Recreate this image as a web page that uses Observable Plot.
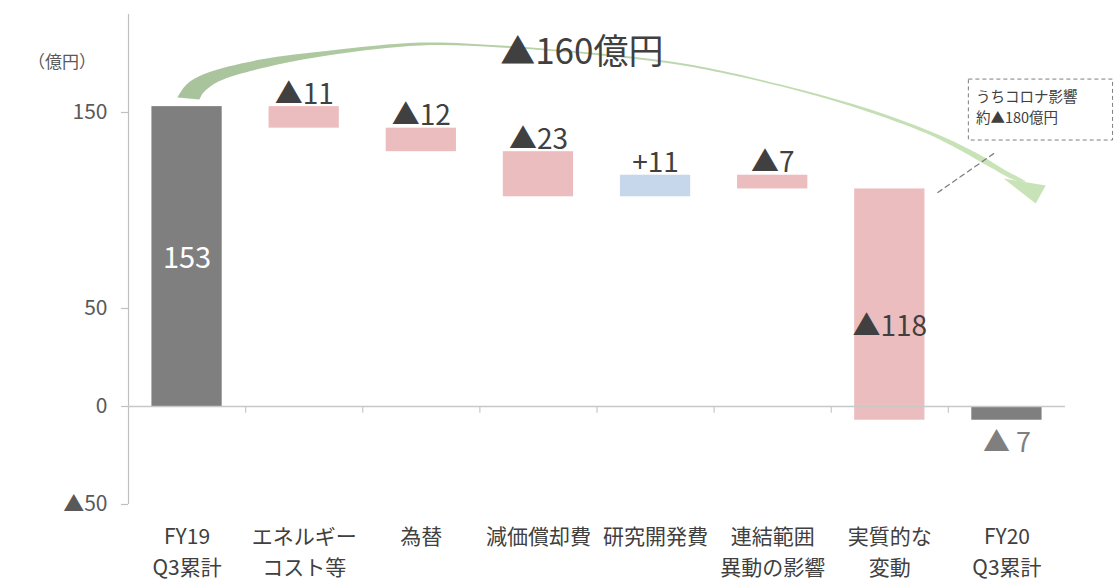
<!DOCTYPE html>
<html><head><meta charset="utf-8">
<script src="https://cdn.jsdelivr.net/npm/d3@7"></script>
<script src="https://cdn.jsdelivr.net/npm/@observablehq/plot@0.6"></script>
<style>body{margin:0;background:#fff;} #chart svg{overflow:visible;}</style>
</head><body><div id="chart"></div>
<script>
// ---- data ----
const categories = ["FY19\nQ3累計", "エネルギー\nコスト等", "為替", "減価償却費", "研究開発費", "連結範囲\n異動の影響", "実質的な\n変動", "FY20\nQ3累計"];
const values = [153, -11, -12, -23, 11, -7, -118, -7];
const kinds = ["total", "delta", "delta", "delta", "delta", "delta", "delta", "total"];
const valueLabels = ["153", "▲11", "▲12", "▲23", "+11", "▲7", "▲118", "▲ 7"];
const yTicks = [150, 50, 0, -50];
const yTickLabels = ["150", "50", "0", "▲50"];
const unitLabel = "（億円）";
const totalChangeLabel = "▲160億円";
const coronaNote = "うちコロナ影響\n約▲180億円";
// annotation arrow outline (data units: x = category index, y = 億円)
const arrowShaftX = [-0.082, -0.005, 0.157, 0.627, 1.225, 1.993, 2.676, 3.530, 4.128, 4.555, 5.238, 5.836, 6.348, 6.733, 6.989, 7.160,
                     7.074, 6.861, 6.605, 6.306, 5.819, 5.238, 4.555, 4.128, 3.530, 2.676, 1.993, 1.225, 0.627, 0.268, 0.140, 0.106];
const arrowShaftY = [157.7, 164.3, 169.9, 177.0, 181.6, 185.7, 184.2, 180.1, 176.0, 171.4, 161.7, 151.5, 140.3, 129.6, 120.4, 114.8,
                     115.3, 121.9, 130.6, 139.5, 150.3, 160.7, 170.4, 175.0, 179.1, 183.2, 184.2, 179.3, 172.4, 165.8, 160.2, 156.6];
const arrowHeadX = [6.972, 7.331, 7.246];
const arrowHeadY = [116.3, 112.8, 103.6];
const noteBoxX = [6.675, 7.906];
const noteBoxY = [135.7, 166.8];
const leaderX = [6.41, 6.889];
const leaderY = [109.2, 129.1];
const totalChangePos = {x: 3.37, y: 180.6};
const notePos = {x: 6.735, y: 153.6};
const unitPos = {x: -1.068, y: 175.5};

// ---- waterfall table ----
let run = 0;
const bars = categories.map((c, i) => {
  const v = values[i];
  let y1, y2;
  if (kinds[i] === "total") { y1 = 0; y2 = v; run = v; }
  else { y1 = run; y2 = run + v; run = y2; }
  return {i, cat: c, v, kind: kinds[i], y1, y2, label: valueLabels[i]};
});
const colorOf = d => d.kind === "total" ? "#7f7f7f" : (d.v < 0 ? "#ecbdbe" : "#c6d6eb");

const insideTotals = bars.filter(d => d.kind === "total" && Math.abs(d.v) >= 50);
const insideDeltas = bars.filter(d => d.kind === "delta" && Math.abs(d.v) >= 50);
const aboveLabels = bars.filter(d => d.kind === "delta" && Math.abs(d.v) < 50);
const belowLabels = bars.filter(d => d.kind === "total" && Math.abs(d.v) < 50);

const shaft = arrowShaftX.map((x, k) => ({x, y: arrowShaftY[k]}));
const head = arrowHeadX.map((x, k) => ({x, y: arrowHeadY[k]}));
const leader = leaderX.map((x, k) => ({x, y: leaderY[k]}));
const boundaries = d3.range(0.5, categories.length - 1, 1);

const font = "'Noto Sans CJK JP', 'Noto Sans', sans-serif";

const plot = Plot.plot({
  width: 1115,
  height: 583,
  marginLeft: 128,
  marginRight: 50,
  marginTop: 14,
  marginBottom: 79,
  style: {fontFamily: font, background: "#fff", overflow: "visible"},
  x: {type: "linear", domain: [-0.5, categories.length - 0.5], axis: null},
  y: {domain: [-50, 200], axis: null},
  marks: [
    // y axis line and ticks
    Plot.ruleX([-0.5], {y1: -50, y2: 200, stroke: "#c0c0c0", strokeWidth: 1.2}),
    Plot.ruleY(yTicks, {x1: -0.56, x2: -0.5, stroke: "#c0c0c0", strokeWidth: 1.2}),
    Plot.text(yTicks, {x: -0.5, y: d => d, text: (d, k) => yTickLabels[k], textAnchor: "end", dx: -21, fontSize: 21, fill: "#595959"}),
    Plot.text([unitLabel], {x: unitPos.x, y: unitPos.y, text: d => d, fontSize: 17, fill: "#595959"}),
    // bars
    Plot.rect(bars, {x1: d => d.i - 0.3, x2: d => d.i + 0.3, y1: "y1", y2: "y2", fill: colorOf}),
    // x axis line and category ticks
    Plot.ruleY([0], {x1: -0.5, x2: categories.length - 0.5, stroke: "#c8c8c8", strokeWidth: 1.5}),
    Plot.ruleX(boundaries, {y1: 0, y2: -3.5, stroke: "#c8c8c8", strokeWidth: 1.2}),
    // category labels
    Plot.text(bars, {x: "i", y: -50, text: "cat", lineAnchor: "top", dy: 17, fontSize: 21, lineHeight: 1.5, fill: "#404040"}),
    // value labels
    Plot.text(insideTotals, {x: "i", y: d => (d.y1 + d.y2) / 2, text: "label", dy: 2, fontSize: 29, fill: "#ffffff"}),
    Plot.text(insideDeltas, {x: "i", y: d => (d.y1 + d.y2) / 2, text: "label", dy: 22, fontSize: 28, fill: "#404040"}),
    Plot.text(aboveLabels, {x: "i", y: d => Math.max(d.y1, d.y2), text: "label", dy: -12, fontSize: 28, fill: "#404040"}),
    Plot.text(belowLabels, {x: "i", y: d => Math.min(d.y1, d.y2), text: "label", dy: 23, fontSize: 27, fill: "#7f7f7f"}),
    // annotation: curved arrow
    Plot.line(shaft, {x: "x", y: "y", curve: "catmull-rom", fill: "url(#arrowGrad)", stroke: "none"}),
    Plot.line(head, {x: "x", y: "y", curve: "linear", fill: "#c9e3b8", stroke: "none"}),
    Plot.text([totalChangeLabel], {x: totalChangePos.x, y: totalChangePos.y, text: d => d, fontSize: 35, fill: "#404040"}),
    // corona note
    Plot.rect([0], {x1: noteBoxX[0], x2: noteBoxX[1], y1: noteBoxY[0], y2: noteBoxY[1], fill: "none", stroke: "#7f7f7f", strokeDasharray: "4,3", strokeWidth: 1}),
    Plot.line(leader, {x: "x", y: "y", stroke: "#7f7f7f", strokeDasharray: "5,4", strokeWidth: 1.3}),
    Plot.text([coronaNote], {x: notePos.x, y: notePos.y, text: d => d, textAnchor: "start", fontSize: 14.5, lineHeight: 1.5, fill: "#404040"})
  ]
});

const ns = "http://www.w3.org/2000/svg";
const defs = document.createElementNS(ns, "defs");
defs.innerHTML = '<linearGradient id="arrowGrad" x1="0" x2="1" y1="0" y2="0"><stop offset="0" stop-color="#a8c29b"/><stop offset="1" stop-color="#cbe5ba"/></linearGradient>';
plot.insertBefore(defs, plot.firstChild);
document.getElementById("chart").appendChild(plot);
</script>
</body></html>
